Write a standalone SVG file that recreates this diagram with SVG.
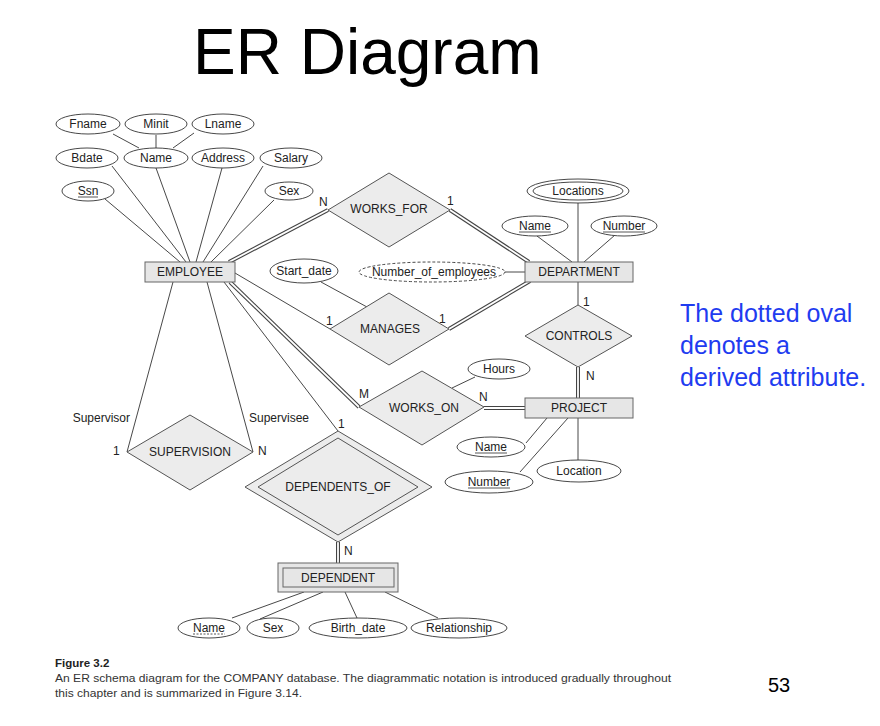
<svg xmlns="http://www.w3.org/2000/svg" width="880" height="726" viewBox="0 0 880 726">
<style>
text{font-family:"Liberation Sans",Arial,sans-serif;fill:#222}
.lbl{font-size:12px;text-anchor:middle}
.card{font-size:12px}
.ln{stroke:#333;stroke-width:0.9;fill:none}
.dblo{stroke:#444;stroke-width:4;fill:none}
.dbli{stroke:#fff;stroke-width:1.8;fill:none}
.att{fill:#fff;stroke:#333;stroke-width:0.9}
.ent{fill:#e6e6e6;stroke:#666;stroke-width:1}
.rel{fill:#ececec;stroke:#555;stroke-width:1}
.u{stroke:#444;stroke-width:0.9}
</style>
<rect width="880" height="726" fill="#fff"/>
<text x="193" y="74" style="font-size:64px;fill:#000">ER Diagram</text>

<g id="connectors">
  <!-- composite Name -->
  <line class="ln" x1="113" y1="134" x2="139" y2="148"/>
  <line class="ln" x1="156" y1="135" x2="156" y2="148"/>
  <line class="ln" x1="194" y1="133" x2="173" y2="148"/>
  <!-- employee attributes -->
  <line class="ln" x1="105" y1="199" x2="180" y2="262"/>
  <line class="ln" x1="112" y1="166" x2="186" y2="262"/>
  <line class="ln" x1="156" y1="168" x2="190" y2="262"/>
  <line class="ln" x1="222" y1="168" x2="196" y2="262"/>
  <line class="ln" x1="263" y1="166" x2="203" y2="262"/>
  <line class="ln" x1="274" y1="200" x2="211" y2="262"/>
  <!-- single relationship lines -->
  <line class="ln" x1="173" y1="282" x2="127" y2="452"/>
  <line class="ln" x1="207" y1="282" x2="253" y2="452"/>
  <line class="ln" x1="224" y1="282" x2="338" y2="431"/>
  <line class="ln" x1="235" y1="273" x2="330" y2="329"/>
  <line class="ln" x1="321" y1="282" x2="367" y2="307"/>
  <line class="ln" x1="505" y1="272" x2="525" y2="272"/>
  <line class="ln" x1="578" y1="203" x2="578" y2="262"/>
  <line class="ln" x1="537" y1="236" x2="572" y2="262"/>
  <line class="ln" x1="615" y1="235" x2="584" y2="262"/>
  <line class="ln" x1="578" y1="282" x2="578" y2="305"/>
  <line class="ln" x1="475" y1="377" x2="452" y2="388"/>
  <line class="ln" x1="526" y1="443" x2="547" y2="418"/>
  <line class="ln" x1="520" y1="472" x2="568" y2="418"/>
  <line class="ln" x1="578" y1="460" x2="578" y2="418"/>
  <line class="ln" x1="232" y1="618" x2="304" y2="592"/>
  <line class="ln" x1="260" y1="619" x2="323" y2="592"/>
  <line class="ln" x1="357" y1="618" x2="345" y2="592"/>
  <line class="ln" x1="438" y1="618" x2="385" y2="592"/>
  <!-- double lines (total participation) -->
  <g>
    <line class="dblo" x1="229" y1="262" x2="328" y2="210"/>
    <line class="dblo" x1="450" y1="210" x2="529" y2="262"/>
    <line class="dblo" x1="449" y1="329" x2="530" y2="281"/>
    <line class="dblo" x1="578" y1="367" x2="578" y2="398"/>
    <line class="dblo" x1="484" y1="408" x2="525" y2="408"/>
    <line class="dblo" x1="230" y1="282" x2="359" y2="407"/>
    <line class="dblo" x1="338" y1="542" x2="338" y2="563"/>
    <line class="dbli" x1="229" y1="262" x2="328" y2="210"/>
    <line class="dbli" x1="450" y1="210" x2="529" y2="262"/>
    <line class="dbli" x1="449" y1="329" x2="530" y2="281"/>
    <line class="dbli" x1="578" y1="367" x2="578" y2="398"/>
    <line class="dbli" x1="484" y1="408" x2="525" y2="408"/>
    <line class="dbli" x1="230" y1="282" x2="359" y2="407"/>
    <line class="dbli" x1="338" y1="542" x2="338" y2="563"/>
  </g>
  <!-- cardinalities and role names -->
  <text class="card" x="319" y="206">N</text>
  <text class="card" x="447" y="205">1</text>
  <text class="card" x="326" y="325">1</text>
  <text class="card" x="439" y="323">1</text>
  <text class="card" x="583" y="306">1</text>
  <text class="card" x="586" y="380">N</text>
  <text class="card" x="359" y="398">M</text>
  <text class="card" x="479" y="401">N</text>
  <text class="card" x="338" y="428">1</text>
  <text class="card" x="344" y="555">N</text>
  <text class="card" x="113" y="455">1</text>
  <text class="card" x="258" y="455">N</text>
  <text class="card" x="130" y="422" text-anchor="end">Supervisor</text>
  <text class="card" x="249" y="422">Supervisee</text>
</g>

<g id="EMPLOYEE">
  <rect class="ent" x="145" y="262" width="90" height="20"/>
  <text class="lbl" x="190" y="276">EMPLOYEE</text>
</g>
<g id="Fname"><ellipse class="att" cx="88" cy="124" rx="32" ry="10"/><text class="lbl" x="88" y="128">Fname</text></g>
<g id="Minit"><ellipse class="att" cx="156" cy="124" rx="31" ry="10"/><text class="lbl" x="156" y="128">Minit</text></g>
<g id="Lname"><ellipse class="att" cx="223" cy="124" rx="31" ry="10"/><text class="lbl" x="223" y="128">Lname</text></g>
<g id="Bdate"><ellipse class="att" cx="87" cy="158" rx="31" ry="10"/><text class="lbl" x="87" y="162">Bdate</text></g>
<g id="Name"><ellipse class="att" cx="156" cy="158" rx="32" ry="10"/><text class="lbl" x="156" y="162">Name</text></g>
<g id="Address"><ellipse class="att" cx="223" cy="158" rx="31" ry="10"/><text class="lbl" x="223" y="162">Address</text></g>
<g id="Salary"><ellipse class="att" cx="291" cy="158" rx="31" ry="10"/><text class="lbl" x="291" y="162">Salary</text></g>
<g id="Ssn"><ellipse class="att" cx="88" cy="191" rx="26" ry="10"/><text class="lbl" x="88" y="195">Ssn</text><line class="u" x1="78" y1="197" x2="98" y2="197"/></g>
<g id="Sex"><ellipse class="att" cx="289" cy="191" rx="24" ry="9"/><text class="lbl" x="289" y="195">Sex</text></g>

<g id="WORKS_FOR">
  <polygon class="rel" points="328,210 389,173 450,210 389,247"/>
  <text class="lbl" x="389" y="213">WORKS_FOR</text>
</g>
<g id="DEPARTMENT">
  <rect class="ent" x="525" y="262" width="108" height="20"/>
  <text class="lbl" x="579" y="276">DEPARTMENT</text>
</g>
<g id="Locations">
  <ellipse class="att" cx="578" cy="191" rx="51" ry="12"/>
  <ellipse class="att" cx="578" cy="191" rx="45" ry="9"/>
  <text class="lbl" x="578" y="195">Locations</text>
</g>
<g id="DeptName"><ellipse class="att" cx="535" cy="226" rx="33" ry="10"/><text class="lbl" x="535" y="230">Name</text><line class="u" x1="519" y1="232" x2="551" y2="232"/></g>
<g id="DeptNumber"><ellipse class="att" cx="624" cy="226" rx="33" ry="10"/><text class="lbl" x="624" y="230">Number</text><line class="u" x1="603" y1="232" x2="645" y2="232"/></g>
<g id="Number_of_employees">
  <ellipse class="att" cx="432" cy="272" rx="73" ry="10" stroke-dasharray="3,2"/>
  <text class="lbl" x="434" y="276">Number_of_employees</text>
</g>
<g id="Start_date"><ellipse class="att" cx="304" cy="271" rx="34" ry="12"/><text class="lbl" x="304" y="275">Start_date</text></g>
<g id="MANAGES">
  <polygon class="rel" points="330,329 389,293 449,329 389,365"/>
  <text class="lbl" x="390" y="333">MANAGES</text>
</g>
<g id="CONTROLS">
  <polygon class="rel" points="525,336 578,305 632,336 578,367"/>
  <text class="lbl" x="579" y="340">CONTROLS</text>
</g>
<g id="PROJECT">
  <rect class="ent" x="525" y="398" width="108" height="20"/>
  <text class="lbl" x="579" y="412">PROJECT</text>
</g>
<g id="WORKS_ON">
  <polygon class="rel" points="359,407 422,371 484,407 422,445"/>
  <text class="lbl" x="424" y="412">WORKS_ON</text>
</g>
<g id="Hours"><ellipse class="att" cx="499" cy="369" rx="31" ry="10"/><text class="lbl" x="499" y="373">Hours</text></g>
<g id="ProjName"><ellipse class="att" cx="491" cy="447" rx="34" ry="10"/><text class="lbl" x="491" y="451">Name</text><line class="u" x1="475" y1="453" x2="507" y2="453"/></g>
<g id="ProjNumber"><ellipse class="att" cx="489" cy="482" rx="44" ry="11"/><text class="lbl" x="489" y="486">Number</text><line class="u" x1="468" y1="488" x2="510" y2="488"/></g>
<g id="ProjLocation"><ellipse class="att" cx="579" cy="471" rx="42" ry="11"/><text class="lbl" x="579" y="475">Location</text></g>
<g id="SUPERVISION">
  <polygon class="rel" points="127,452 190,415 253,452 190,490"/>
  <text class="lbl" x="190" y="456">SUPERVISION</text>
</g>
<g id="DEPENDENTS_OF">
  <polygon class="rel" points="245,487 338,431 432,487 338,542"/>
  <polygon class="rel" points="258,487 338,438 418,487 338,535"/>
  <text class="lbl" x="338" y="491">DEPENDENTS_OF</text>
</g>
<g id="DEPENDENT">
  <rect class="ent" x="278" y="563" width="120" height="29"/>
  <rect class="ent" x="283" y="568" width="111" height="19"/>
  <text class="lbl" x="338" y="582">DEPENDENT</text>
</g>
<g id="DepName"><ellipse class="att" cx="209" cy="628" rx="31" ry="10"/><text class="lbl" x="209" y="632">Name</text><line class="u" x1="193" y1="634" x2="225" y2="634" stroke-dasharray="2,1.5"/></g>
<g id="DepSex"><ellipse class="att" cx="273" cy="628" rx="26" ry="10"/><text class="lbl" x="273" y="632">Sex</text></g>
<g id="Birth_date"><ellipse class="att" cx="358" cy="628" rx="49" ry="10"/><text class="lbl" x="358" y="632">Birth_date</text></g>
<g id="Relationship"><ellipse class="att" cx="459" cy="628" rx="48" ry="10"/><text class="lbl" x="459" y="632">Relationship</text></g>

<g id="note">
  <text x="680" y="322" style="font-size:25px;fill:#1f3cf0">The dotted oval</text>
  <text x="680" y="354" style="font-size:25px;fill:#1f3cf0">denotes a</text>
  <text x="680" y="386" style="font-size:25px;fill:#1f3cf0">derived attribute.</text>
</g>
<g id="caption">
  <text x="55" y="667" style="font-size:11.5px;font-weight:bold;fill:#222">Figure 3.2</text>
  <text x="55" y="682" style="font-size:11px;fill:#333" textLength="616" lengthAdjust="spacingAndGlyphs">An ER schema diagram for the COMPANY database. The diagrammatic notation is introduced gradually throughout</text>
  <text x="55" y="697" style="font-size:11px;fill:#333" textLength="247" lengthAdjust="spacingAndGlyphs">this chapter and is summarized in Figure 3.14.</text>
  <text x="768" y="692" style="font-size:20px;fill:#000">53</text>
</g>
</svg>
